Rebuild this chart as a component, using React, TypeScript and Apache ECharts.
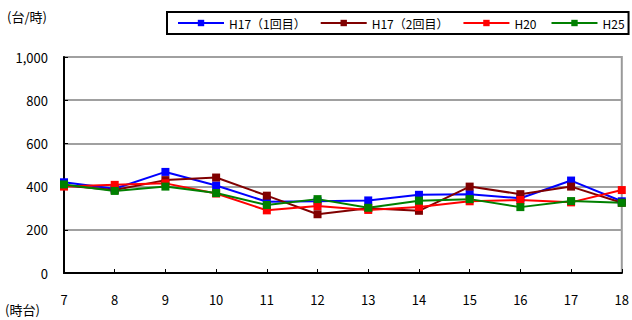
import React, { useEffect, useRef } from "react";
import * as echarts from "echarts";

const hours = ["7", "8", "9", "10", "11", "12", "13", "14", "15", "16", "17", "18"];
const seriesNames = ["H17（1回目）", "H17（2回目）", "H20", "H25"];
const h17a = [420, 390, 468, 405, 330, 332, 336, 362, 365, 346, 428, 332];
const h17b = [405, 384, 430, 442, 358, 272, 300, 288, 400, 365, 400, 325];
const h20 = [400, 408, 415, 368, 290, 310, 292, 306, 332, 338, 327, 384];
const h25 = [410, 380, 400, 370, 315, 342, 302, 335, 342, 305, 333, 325];
const colors = ["#0000ff", "#800000", "#ff0000", "#008000"];
const yUnit = "(台/時)";
const xUnit = "(時台)";

const FONT = "'Noto Sans CJK JP', 'Noto Sans', sans-serif";

export default function App() {
  const ref = useRef<HTMLDivElement>(null);
  useEffect(() => {
    if (!ref.current) return;
    const chart = echarts.init(ref.current, undefined, { renderer: "svg" });
    const allData = [h17a, h17b, h20, h25];
    chart.setOption({
      animation: false,
      backgroundColor: "#ffffff",
      textStyle: { fontFamily: FONT, color: "#000" },
      grid: {
        left: 64,
        right: 9,
        top: 57,
        bottom: 47,
        show: true,
        borderColor: "#999999",
        borderWidth: 2,
      },
      legend: {
        data: seriesNames,
        left: 167,
        top: 12,
        width: 470,
        itemWidth: 46,
        itemHeight: 8,
        itemGap: 14,
        padding: [5, 4, 5, 10],
        borderColor: "#000",
        borderWidth: 2,
        textStyle: { fontFamily: FONT, fontSize: 12, color: "#000" },
      },
      xAxis: {
        type: "category",
        data: hours,
        boundaryGap: false,
        axisLine: { lineStyle: { color: "#000", width: 2 } },
        axisTick: { inside: true, length: 4, lineStyle: { color: "#000", width: 1 } },
        axisLabel: { margin: 20, fontSize: 13, color: "#000", fontFamily: FONT },
        splitLine: { show: false },
      },
      yAxis: {
        type: "value",
        min: 0,
        max: 1000,
        interval: 200,
        axisLine: { show: true, lineStyle: { color: "#000", width: 2 } },
        axisTick: { show: true, inside: true, length: 4, lineStyle: { color: "#000", width: 1 } },
        axisLabel: {
          margin: 16,
          fontSize: 13,
          color: "#000",
          fontFamily: FONT,
          formatter: (v: number) => v.toLocaleString("en-US"),
        },
        splitLine: { lineStyle: { color: "#a0a0a0", width: 2 } },
      },
      graphic: [
        {
          type: "text",
          left: 7,
          top: 10,
          style: { text: yUnit, fontSize: 13, fontFamily: FONT, fill: "#000" },
        },
        {
          type: "text",
          left: 5,
          top: 303,
          style: { text: xUnit, fontSize: 13, fontFamily: FONT, fill: "#000" },
        },
      ],
      series: seriesNames.map((name, i) => ({
        name,
        type: "line",
        data: allData[i],
        symbol: "rect",
        symbolSize: 8,
        showSymbol: true,
        itemStyle: { color: colors[i] },
        lineStyle: { color: colors[i], width: 2 },
      })),
    });
    return () => chart.dispose();
  }, []);
  return <div ref={ref} style={{ width: 632, height: 320, position: "absolute", left: 0, top: 0 }} />;
}
